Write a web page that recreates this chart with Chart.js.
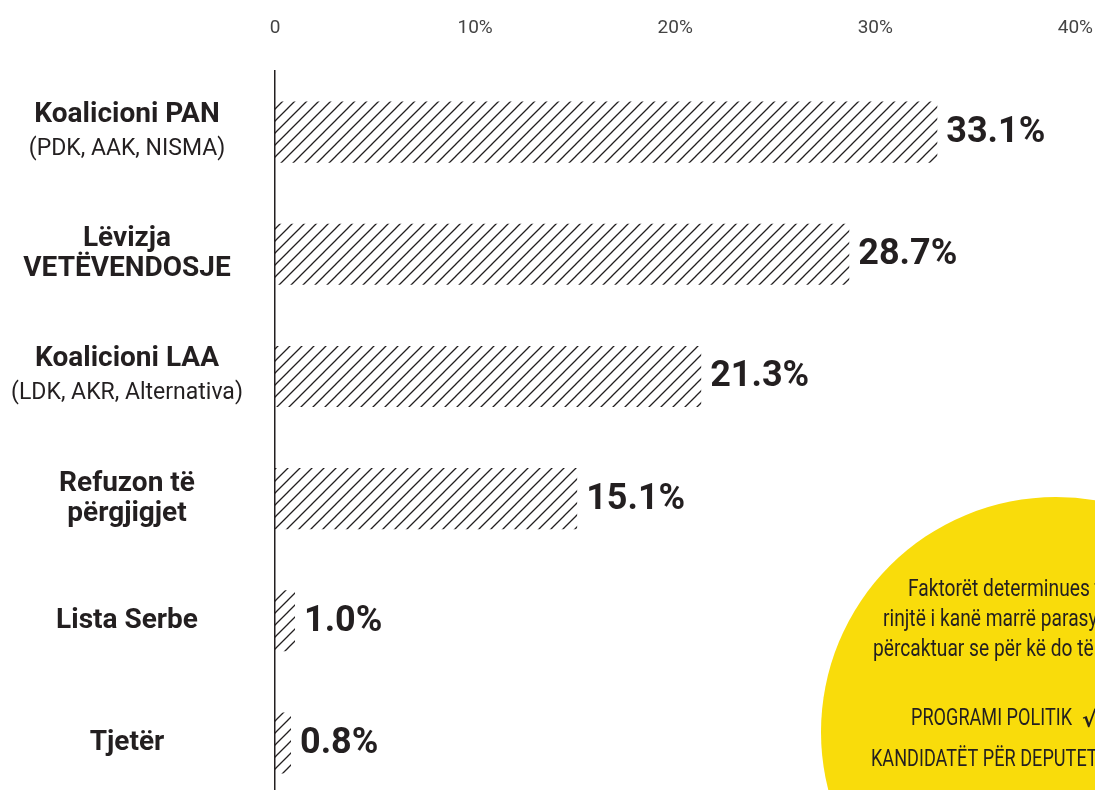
<!DOCTYPE html>
<html>
<head>
<meta charset="utf-8">
<script src="https://cdn.jsdelivr.net/npm/chart.js@4.4.1/dist/chart.umd.min.js"></script>
<style>
  html, body { margin: 0; padding: 0; background: #fff; overflow: hidden; }
  #wrap { width: 1095px; height: 790px; overflow: hidden; }
</style>
</head>
<body>
<div id="wrap">
  <canvas id="chart" width="1095" height="804"></canvas>
</div>
<script>
// dati
const partyNames = [
  ["Koalicioni PAN"],
  ["Lëvizja", "VETËVENDOSJE"],
  ["Koalicioni LAA"],
  ["Refuzon të", "përgjigjet"],
  ["Lista Serbe"],
  ["Tjetër"]
];
const partySubs = ["(PDK, AAK, NISMA)", "", "(LDK, AKR, Alternativa)", "", "", ""];
const shares = [33.1, 28.7, 21.3, 15.1, 1.0, 0.8];
const tickValues = [0, 10, 20, 30, 40];

// testo nel cerchio giallo
const noteLines = [
  "Faktorët determinues të cilët",
  "rinjtë i kanë marrë parasysh për",
  "përcaktuar se për kë do të votojnë"
];
const noteItems = ["PROGRAMI POLITIK", "KANDIDATËT PËR DEPUTETË"];

const ink = "#231f20";

// pattern a righe diagonali per le barre
var makeHatch = function() {
  var c = document.createElement("canvas");
  var s = 12;
  c.width = s;
  c.height = s;
  var g = c.getContext("2d");
  g.strokeStyle = ink;
  g.lineWidth = 1.3;
  g.beginPath();
  g.moveTo(-2, s + 2); g.lineTo(s + 2, -2);
  g.moveTo(-2, 2); g.lineTo(2, -2);
  g.moveTo(s - 2, s + 2); g.lineTo(s + 2, s - 2);
  g.stroke();
  return document.getElementById("chart").getContext("2d").createPattern(c, "repeat");
};

// etichette a sinistra, valori e cerchio giallo
const extras = {
  id: "extras",
  afterDatasetsDraw(chart) {
    var ctx = chart.ctx;
    var y = chart.scales.y;
    var meta = chart.getDatasetMeta(0);

    ctx.save();
    ctx.fillStyle = ink;
    ctx.textAlign = "center";
    ctx.textBaseline = "middle";
    for (var i = 0; i < partyNames.length; i++) {
      var cy = y.getPixelForValue(i);
      var lines = partyNames[i].map(t => ({ t: t, bold: true }));
      if (partySubs[i]) lines.push({ t: partySubs[i], bold: false });
      var gap = lines.length > 1 && !lines[1].bold ? 34 : 30;
      var y0 = cy - gap * (lines.length - 1) / 2;
      lines.forEach((l, k) => {
        ctx.font = l.bold ? "bold 28px Roboto" : "23px Roboto";
        ctx.fillText(l.t, 127, y0 + k * gap);
      });
    }

    ctx.textAlign = "left";
    ctx.font = "bold 36px Roboto";
    meta.data.forEach((bar, i) => {
      ctx.fillText(shares[i].toFixed(1) + "%", bar.x + 9, bar.y + 1);
    });
    ctx.restore();
  },
  afterDraw(chart) {
    var ctx = chart.ctx;
    ctx.save();
    ctx.fillStyle = "#f9dc0b";
    ctx.beginPath();
    ctx.arc(1056, 732, 235, 0, Math.PI * 2);
    ctx.fill();

    // testo condensato: Roboto schiacciato in orizzontale
    ctx.fillStyle = ink;
    ctx.textAlign = "left";
    ctx.textBaseline = "middle";
    ctx.font = "23px Roboto";
    var sx = 161 / ctx.measureText(noteItems[0]).width;
    var put = function(t, x, yy, k) {
      ctx.save();
      ctx.translate(x, yy);
      ctx.scale(sx * k, 1);
      ctx.fillText(t, 0, 0);
      ctx.restore();
    };
    var starts = [908, 883, 873];
    noteLines.forEach((t, k) => put(t, starts[k], 590 + k * 30, 1.06));
    put(noteItems[0], 911, 719, 1);
    put(noteItems[1], 871, 760, 1);
    ctx.font = "bold 22px 'DejaVu Sans'";
    ctx.fillText("√", 1082, 721);
    ctx.restore();
  }
};

new Chart(document.getElementById("chart"), {
  type: "bar",
  data: {
    labels: partyNames.map(n => n.join(" ")),
    datasets: [{
      data: shares,
      backgroundColor: makeHatch(),
      borderWidth: 0,
      categoryPercentage: 1,
      barPercentage: 0.5
    }]
  },
  options: {
    indexAxis: "y",
    responsive: false,
    animation: false,
    layout: { padding: { left: 275, right: 0, top: -15, bottom: 0 } },
    plugins: { legend: { display: false }, tooltip: { enabled: false } },
    scales: {
      x: {
        position: "top",
        min: 0,
        max: 40,
        afterBuildTicks: axis => { axis.ticks = tickValues.map(v => ({ value: v })); },
        grid: { display: false, drawTicks: false },
        border: { display: false },
        ticks: {
          padding: 2,
          color: "#444",
          font: { family: "Roboto", size: 19, weight: "400", lineHeight: "82px" },
          callback: v => v === 0 ? "0" : v + "%"
        }
      },
      y: {
        grid: { display: false, drawTicks: false },
        border: { display: true, color: ink, width: 1.5 },
        ticks: { display: false },
        afterFit: axis => { axis.width = 0; }
      }
    }
  },
  plugins: [extras]
});
</script>
</body>
</html>
